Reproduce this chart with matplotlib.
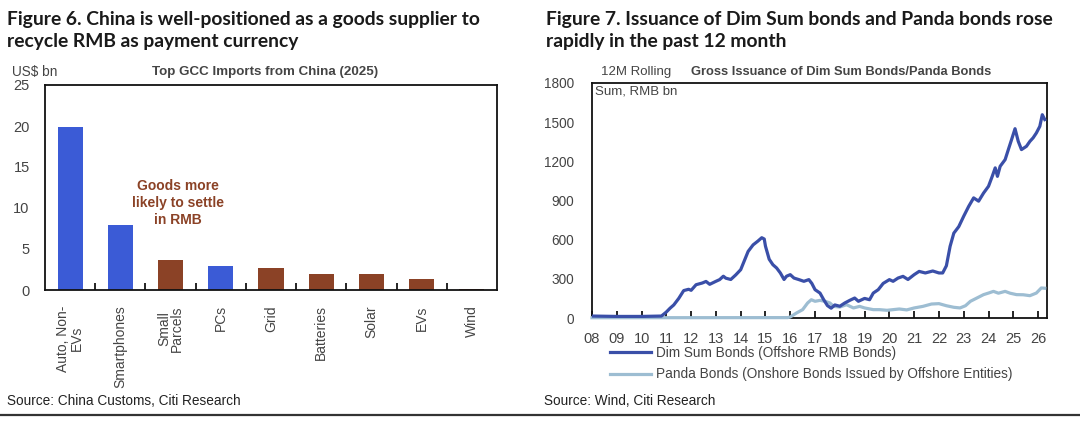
import numpy as np
import matplotlib
matplotlib.use("Agg")
import matplotlib.pyplot as plt
from matplotlib.lines import Line2D

# ---- data: figure 6 ----
categories = ["Auto, Non-\nEVs", "Smartphones", "Small\nParcels", "PCs", "Grid",
              "Batteries", "Solar", "EVs", "Wind"]
imports_bn = [19.9, 7.9, 3.6, 2.9, 2.7, 2.0, 1.9, 1.3, 0.1]
settle_rmb = [False, False, True, False, True, True, True, True, True]

# ---- data: figure 7 (12M rolling sum, RMB bn) ----
dimsum_t = [2008.0, 2009.0, 2010.0, 2010.8, 2010.9, 2011.0, 2011.15, 2011.3, 2011.5,
            2011.7, 2011.9, 2012.0, 2012.2, 2012.45, 2012.6, 2012.75, 2013.0, 2013.15,
            2013.3, 2013.4, 2013.6, 2013.8, 2014.0, 2014.15, 2014.3, 2014.5, 2014.7,
            2014.85, 2014.95, 2015.0, 2015.15, 2015.3, 2015.45, 2015.6, 2015.75,
            2015.85, 2016.0, 2016.15, 2016.35, 2016.55, 2016.75, 2016.87, 2017.0,
            2017.2, 2017.35, 2017.5, 2017.65, 2017.8, 2018.0, 2018.2, 2018.4, 2018.6,
            2018.75, 2019.0, 2019.2, 2019.35, 2019.55, 2019.75, 2020.0, 2020.15,
            2020.35, 2020.55, 2020.75, 2021.0, 2021.2, 2021.45, 2021.75, 2022.0,
            2022.15, 2022.3, 2022.45, 2022.6, 2022.8, 2023.0, 2023.2, 2023.4, 2023.6,
            2023.8, 2024.0, 2024.15, 2024.27, 2024.36, 2024.47, 2024.67, 2024.8,
            2024.93, 2025.07, 2025.2, 2025.33, 2025.53, 2025.67, 2025.8, 2025.93,
            2026.07, 2026.17, 2026.27]
dimsum_v = [15, 12, 12, 15, 30, 46, 75, 100, 150,
            210, 220, 212, 255, 268, 280, 258, 281, 294,
            320, 305, 295, 330, 370, 440, 510, 560, 590,
            615, 605, 550, 450, 408, 383, 345, 295,
            320, 332, 306, 294, 281, 294, 265, 217,
            191, 140, 95, 75, 100, 90, 115, 135, 153,
            128, 150, 140, 191, 217, 265, 294, 281,
            306, 319, 295, 332, 357, 345, 360, 345,
            345, 400, 549, 650, 700, 780, 855, 920, 895,
            957, 1009, 1085, 1150, 1085, 1162, 1213, 1290,
            1366, 1450, 1353, 1290, 1315, 1353, 1380, 1417,
            1468, 1557, 1520]

panda_t = [2008.0, 2015.9, 2016.0, 2016.25, 2016.5, 2016.7, 2016.85, 2017.0, 2017.2,
           2017.4, 2017.6, 2017.75, 2018.0, 2018.27, 2018.55, 2018.8, 2019.0, 2019.35,
           2019.6, 2019.9, 2020.15, 2020.4, 2020.7, 2021.0, 2021.35, 2021.7, 2022.0,
           2022.3, 2022.6, 2022.85, 2023.07, 2023.27, 2023.53, 2023.8, 2024.0, 2024.2,
           2024.4, 2024.67, 2024.87, 2025.13, 2025.4, 2025.67, 2025.93, 2026.13, 2026.27]
panda_v = [2, 3, 8, 38, 64, 115, 140, 128, 135,
           128, 115, 89, 84, 102, 77, 89, 77, 64,
           64, 59, 64, 69, 62, 77, 89, 107, 110,
           94, 82, 77, 94, 128, 153, 179, 191, 204,
           190, 204, 190, 179, 178, 171, 191, 230, 228]

year_ticks = list(range(2008, 2027))
year_labels = ["%02d" % (y % 100) for y in year_ticks]

W, H = 1080, 421
BLUE_BAR = "#3b5bd6"
BROWN = "#8b4226"
DIMSUM = "#3a4fa8"
PANDA = "#9dbdd2"
GREY = "#444444"
BODY = ["Liberation Sans", "DejaVu Sans"]
HEAD = ["Lato", "DejaVu Sans"]

plt.rcParams["font.family"] = BODY
fig = plt.figure(figsize=(W / 100, H / 100), dpi=100)


def px(x, y):
    return x / W, 1 - y / H


def box(x0, y0, x1, y1):
    return [x0 / W, 1 - y1 / H, (x1 - x0) / W, (y1 - y0) / H]


# ---- headings ----
heads = [(7, ["Figure 6. China is well-positioned as a goods supplier to",
              "recycle RMB as payment currency"]),
         (546, ["Figure 7. Issuance of Dim Sum bonds and Panda bonds rose",
                "rapidly in the past 12 month"])]
for hx, lines in heads:
    for i, line in enumerate(lines):
        fig.text(*px(hx, 25 + 22 * i), line, family=HEAD, weight="bold", fontsize=13.9,
                 color="#1a1a1a", va="baseline")

# ---- left chart ----
ax1 = fig.add_axes(box(45, 85, 497, 290))
x = np.arange(len(categories))
cols = [BROWN if s else BLUE_BAR for s in settle_rmb]
ax1.bar(x, imports_bn, width=0.5, color=cols, zorder=2)
ax1.set_xlim(-0.5, len(categories) - 0.5)
ax1.set_ylim(0, 25)
ax1.set_yticks([0, 5, 10, 15, 20, 25])
ax1.set_xticks(x)
ax1.set_xticklabels(categories, rotation=90, va="top", ha="center", fontsize=10, color=GREY,
                    linespacing=0.95)
ax1.set_xticks(np.arange(0.5, len(categories) - 0.5), minor=True)
ax1.tick_params(axis="x", which="major", length=0, pad=11)
ax1.tick_params(axis="x", which="minor", direction="in", length=5, width=1.2)
ax1.tick_params(axis="y", length=0, pad=11, labelsize=10.5, labelcolor=GREY)
for s in ax1.spines.values():
    s.set_linewidth(1.3)
    s.set_color("#111111")
ax1.text(2.15, 10.6, "Goods more\nlikely to settle\nin RMB", color=BROWN, weight="bold",
         fontsize=10, ha="center", va="center", linespacing=1.3)
fig.text(*px(12, 72), "US$ bn", fontsize=9.8, color=GREY, va="center")
fig.text(*px(265, 72), "Top GCC Imports from China (2025)", fontsize=9.6, weight="bold",
         color=GREY, va="center", ha="center")
fig.text(*px(7, 401), "Source: China Customs, Citi Research", fontsize=9.8, color="#222222",
         va="center")

# ---- right chart ----
ax2 = fig.add_axes(box(592, 83, 1047, 318))
ax2.plot(panda_t, panda_v, color=PANDA, lw=2.3, zorder=3, clip_on=False)
ax2.plot(dimsum_t, dimsum_v, color=DIMSUM, lw=2.3, zorder=4)
ax2.set_xlim(2008, 2026.36)
ax2.set_ylim(0, 1800)
ax2.set_yticks([0, 300, 600, 900, 1200, 1500, 1800])
ax2.set_xticks(year_ticks)
ax2.set_xticklabels(year_labels)
ax2.tick_params(axis="x", direction="in", length=5, width=1.2, pad=10, labelsize=10.5,
                labelcolor=GREY)
ax2.tick_params(axis="y", length=0, pad=13, labelsize=9.8, labelcolor=GREY)
for s in ax2.spines.values():
    s.set_linewidth(1.3)
    s.set_color("#111111")
fig.text(*px(636, 72), "12M Rolling", fontsize=9.5, color=GREY, va="center", ha="center")
fig.text(*px(636, 92), "Sum, RMB bn", fontsize=9.5, color=GREY, va="center", ha="center")
fig.text(*px(841, 72), "Gross Issuance of Dim Sum Bonds/Panda Bonds", fontsize=9.3,
         weight="bold", color=GREY, va="center", ha="center")
handles = [Line2D([], [], color=DIMSUM, lw=2.3), Line2D([], [], color=PANDA, lw=2.3)]
fig.legend(handles, ["Dim Sum Bonds (Offshore RMB Bonds)",
                     "Panda Bonds (Onshore Bonds Issued by Offshore Entities)"],
           loc="upper left", bbox_to_anchor=px(610, 346), frameon=False, fontsize=9.8,
           handlelength=3.0, handletextpad=0.4, borderpad=0, borderaxespad=0,
           labelspacing=0.55, labelcolor=GREY)
fig.text(*px(544, 401), "Source: Wind, Citi Research", fontsize=9.8, color="#222222",
         va="center")

# separator line at the bottom
fig.add_artist(Line2D([0, 1], [1 - 415 / H, 1 - 415 / H], transform=fig.transFigure,
                      color="#333333", lw=1.6))

fig.savefig("out.png", dpi=100)
